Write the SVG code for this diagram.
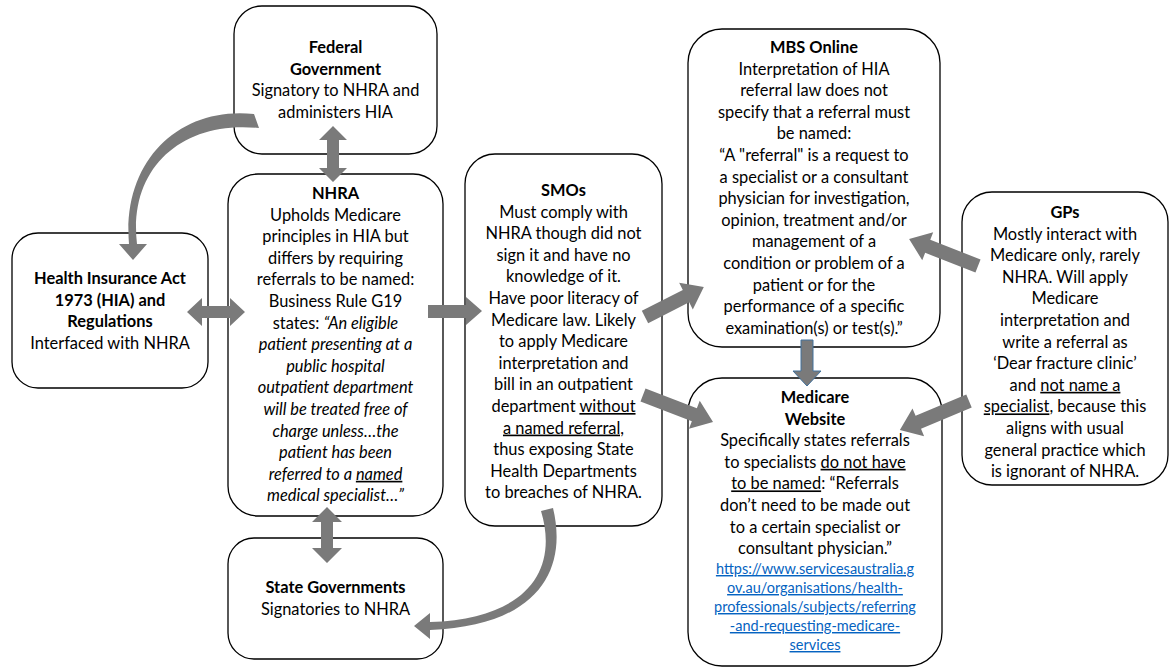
<svg xmlns="http://www.w3.org/2000/svg" width="1173" height="668" viewBox="0 0 1173 668">
<style>
.box{fill:#fff;stroke:#000;stroke-width:1.3}
.t{font-family:Lato,"Liberation Sans",sans-serif;font-size:16.4px;fill:#000;text-anchor:middle}
.b{font-weight:bold}
.i{font-style:italic}
.u{text-decoration:underline}
.url{font-size:14.5px;fill:#0563C1;text-decoration:underline}
.arr{fill:#7a7a7a}
.arrb{fill:#7a7a7a;stroke:#41719c;stroke-width:1}
</style>
<rect width="1173" height="668" fill="#fff"/>
<g id="federal">
<rect class="box" x="234" y="6" width="203" height="148" rx="28"/>
<text class="t"><tspan class="b" x="335.5" y="53">Federal</tspan><tspan class="b" x="335.5" y="74.6">Government</tspan><tspan x="335.5" y="96.2">Signatory to NHRA and</tspan><tspan x="335.5" y="117.8">administers HIA</tspan></text>
</g>
<g id="nhra">
<rect class="box" x="228" y="174" width="215" height="342" rx="30"/>
<text class="t"><tspan class="b" x="335.5" y="199">NHRA</tspan><tspan x="335.5" y="220.6">Upholds Medicare</tspan><tspan x="335.5" y="242.2">principles in HIA but</tspan><tspan x="335.5" y="263.8">differs by requiring</tspan><tspan x="335.5" y="285.4">referrals to be named:</tspan><tspan x="335.5" y="307">Business Rule G19</tspan><tspan x="335.5" y="328.6">states: <tspan class="i">“An eligible</tspan></tspan><tspan class="i" x="335.5" y="350.2">patient presenting at a</tspan><tspan class="i" x="335.5" y="371.8">public hospital</tspan><tspan class="i" x="335.5" y="393.4">outpatient department</tspan><tspan class="i" x="335.5" y="415">will be treated free of</tspan><tspan class="i" x="335.5" y="436.6">charge unless…the</tspan><tspan class="i" x="335.5" y="458.2">patient has been</tspan><tspan class="i" x="335.5" y="479.8">referred to a <tspan class="u">named</tspan></tspan><tspan class="i" x="335.5" y="501.4">medical specialist…”</tspan></text>
</g>
<g id="hia">
<rect class="box" x="12" y="233" width="196" height="155" rx="26"/>
<text class="t"><tspan class="b" x="110" y="284">Health Insurance Act</tspan><tspan class="b" x="110" y="305.6">1973 (HIA) and</tspan><tspan class="b" x="110" y="327.2">Regulations</tspan><tspan x="110" y="348.8">Interfaced with NHRA</tspan></text>
</g>
<g id="state">
<rect class="box" x="228" y="538" width="215" height="121" rx="26"/>
<text class="t"><tspan class="b" x="335.5" y="593">State Governments</tspan><tspan x="335.5" y="614.6">Signatories to NHRA</tspan></text>
</g>
<g id="smos">
<rect class="box" x="465" y="154" width="197" height="372" rx="30"/>
<text class="t"><tspan class="b" x="563.5" y="196">SMOs</tspan><tspan x="563.5" y="217.6">Must comply with</tspan><tspan x="563.5" y="239.2">NHRA though did not</tspan><tspan x="563.5" y="260.8">sign it and have no</tspan><tspan x="563.5" y="282.4">knowledge of it.</tspan><tspan x="563.5" y="304">Have poor literacy of</tspan><tspan x="563.5" y="325.6">Medicare law. Likely</tspan><tspan x="563.5" y="347.2">to apply Medicare</tspan><tspan x="563.5" y="368.8">interpretation and</tspan><tspan x="563.5" y="390.4">bill in an outpatient</tspan><tspan x="563.5" y="412">department <tspan class="u">without</tspan></tspan><tspan class="u" x="563.5" y="433.6">a named referral,</tspan><tspan x="563.5" y="455.2">thus exposing State</tspan><tspan x="563.5" y="476.8">Health Departments</tspan><tspan x="563.5" y="498.4">to breaches of NHRA.</tspan></text>
</g>
<g id="mbs">
<rect class="box" x="688" y="29" width="252" height="318" rx="34"/>
<text class="t"><tspan class="b" x="814" y="53">MBS Online</tspan><tspan x="814" y="74.6">Interpretation of HIA</tspan><tspan x="814" y="96.2">referral law does not</tspan><tspan x="814" y="117.8">specify that a referral must</tspan><tspan x="814" y="139.4">be named:</tspan><tspan x="814" y="161">“A "referral" is a request to</tspan><tspan x="814" y="182.6">a specialist or a consultant</tspan><tspan x="814" y="204.2">physician for investigation,</tspan><tspan x="814" y="225.8">opinion, treatment and/or</tspan><tspan x="814" y="247.4">management of a</tspan><tspan x="814" y="269">condition or problem of a</tspan><tspan x="814" y="290.6">patient or for the</tspan><tspan x="814" y="312.2">performance of a specific</tspan><tspan x="814" y="333.8">examination(s) or test(s).”</tspan></text>
</g>
<g id="medicare">
<rect class="box" x="688" y="378" width="254" height="288" rx="34"/>
<text class="t"><tspan class="b" x="815" y="403">Medicare</tspan><tspan class="b" x="815" y="424.6">Website</tspan><tspan x="815" y="446.2">Specifically states referrals</tspan><tspan x="815" y="467.8">to specialists <tspan class="u">do not have</tspan></tspan><tspan x="815" y="489.4"><tspan class="u">to be named</tspan>: “Referrals</tspan><tspan x="815" y="511">don’t need to be made out</tspan><tspan x="815" y="532.6">to a certain specialist or</tspan><tspan x="815" y="554.2">consultant physician.”</tspan></text>
<text class="t url"><tspan x="815" y="574">https://www.servicesaustralia.g</tspan><tspan x="815" y="593">ov.au/organisations/health-</tspan><tspan x="815" y="612">professionals/subjects/referring</tspan><tspan x="815" y="631">-and-requesting-medicare-</tspan><tspan x="815" y="650">services</tspan></text>
</g>
<g id="gps">
<rect class="box" x="962" y="192" width="206" height="293" rx="30"/>
<text class="t"><tspan class="b" x="1065" y="218">GPs</tspan><tspan x="1065" y="239.6">Mostly interact with</tspan><tspan x="1065" y="261.2">Medicare only, rarely</tspan><tspan x="1065" y="282.8">NHRA. Will apply</tspan><tspan x="1065" y="304.4">Medicare</tspan><tspan x="1065" y="326">interpretation and</tspan><tspan x="1065" y="347.6">write a referral as</tspan><tspan x="1065" y="369.2">‘Dear fracture clinic’</tspan><tspan x="1065" y="390.8">and <tspan class="u">not name a</tspan></tspan><tspan x="1065" y="412.4"><tspan class="u">specialist</tspan>, because this</tspan><tspan x="1065" y="434">aligns with usual</tspan><tspan x="1065" y="455.6">general practice which</tspan><tspan x="1065" y="477.2">is ignorant of NHRA.</tspan></text>
</g>
<g id="connectors">
<polygon class="arr" points="333,126 347,140 339,140 339,168 347,168 333,182 319,168 327,168 327,140 319,140"/>
<polygon class="arr" points="187,312 202,298 202,306 230,306 230,298 245,312 230,326 230,318 202,318 202,326"/>
<polygon class="arr" points="327,507 342,522 333,522 333,548 342,548 327,563 312,548 321,548 321,522 312,522"/>
<polygon class="arr" points="428,305 466,305 466,297 482,311 466,325 466,318 428,318"/>
<polygon class="arr" transform="translate(645,317) rotate(-27)" points="0,-7 46,-7 46,-15 66,0 46,15 46,7 0,7"/>
<polygon class="arr" transform="translate(643,395) rotate(21)" points="0,-7 55,-7 55,-15 75,0 55,15 55,7 0,7"/>
<polygon class="arr" transform="translate(978,266) rotate(201.4)" points="0,-7 54,-7 54,-15 74,0 54,15 54,7 0,7"/>
<polygon class="arr" transform="translate(969,401) rotate(157.2)" points="0,-7 55,-7 55,-15 75,0 55,15 55,7 0,7"/>
<polygon class="arrb" points="801,340 813,340 813,371 821,371 807,386 793,371 801,371"/>
<path class="arr" d="M254,114 C180,106 122,160 129,244 L119,244 L133,260 L147,244 L137,244 C128,168 182,120 259,128 Z"/>
<path class="arr" d="M553,508 C568,570 538,626 430,630 L430,639 L414,626 L430,613 L430,622 C527,619 559,570 541,511 Z"/>
</g>
</svg>
